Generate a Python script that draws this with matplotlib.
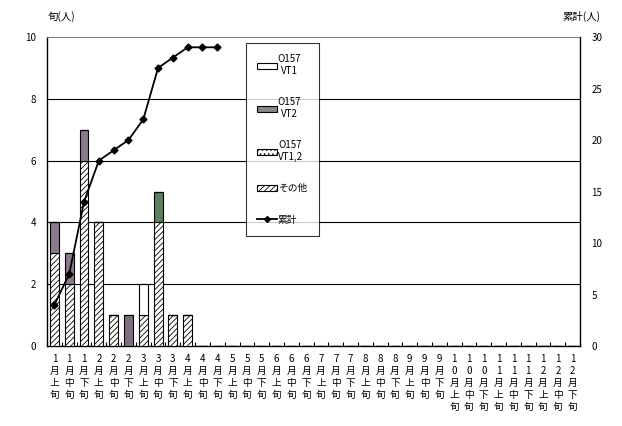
import matplotlib.pyplot as plt
import numpy as np
from matplotlib.patches import Patch
from matplotlib.lines import Line2D

plt.rcParams['font.family'] = ['Noto Sans CJK JP', 'DejaVu Sans']

months = list(range(1, 13))
parts = ['上', '中', '下']
labels = []
for m in months:
    for p in parts:
        labels.append('\n'.join(list(str(m))) + '\n月\n' + p + '\n旬')

# counts per 10-day period (first 12 periods, rest zero)
other = [3, 2, 6, 4, 1, 0, 1, 4, 1, 1]
vt2 = [1, 1, 1, 0, 0, 1, 0, 1, 0, 0]
vt1 = [0, 0, 0, 0, 0, 0, 1, 0, 0, 0]
vt12 = [0, 0, 0, 0, 0, 0, 0, 0, 0, 0]
vt2_colors = ['#8a7a8c', '#8a7a8c', '#8a7a8c', '#888888', '#888888',
              '#7e6e80', '#888888', '#5f7d5f', '#888888', '#888888']
cumulative = [4, 7, 14, 18, 19, 20, 22, 27, 28, 29, 29, 29]

n = len(labels)
x = np.arange(n)
pad = n - len(other)
other_a = np.array(other + [0] * pad)
vt2_a = np.array(vt2 + [0] * pad)
vt1_a = np.array(vt1 + [0] * pad)
vt12_a = np.array(vt12 + [0] * pad)

fig = plt.figure(figsize=(6.22, 4.26), dpi=100)
ax = fig.add_axes([0.0756, 0.1878, 0.857, 0.7253])
plt.rcParams['hatch.linewidth'] = 0.6
w = 0.6

ax.bar(x, other_a, w, color='white', edgecolor='black', hatch='//////', linewidth=0.8, zorder=3)
ax.bar(x, vt2_a, w, bottom=other_a, color=vt2_colors + ['#888888'] * pad,
       edgecolor='black', linewidth=0.8, zorder=3)
ax.bar(x, vt1_a, w, bottom=other_a + vt2_a, color='white', edgecolor='black', linewidth=0.8, zorder=3)
ax.bar(x, vt12_a, w, bottom=other_a + vt2_a + vt1_a, color='white', edgecolor='black',
       hatch='....', linewidth=0.8, zorder=3)

ax.set_xlim(-0.5, n - 0.5)
ax.set_ylim(0, 10)
ax.set_yticks(range(0, 11, 2))
ax.set_yticklabels([str(v) for v in range(0, 11, 2)], fontsize=7)
ax.set_xticks(x)
ax.set_xticklabels(labels, fontsize=7, linespacing=1.25)
ax.set_xticks(np.arange(-0.5, n, 1), minor=True)
ax.tick_params(axis='x', which='major', length=0, pad=6)
ax.tick_params(axis='x', which='minor', length=3, direction='in', width=0.8)
ax.tick_params(axis='y', length=0, pad=8)
for yv in [2, 4, 6, 8]:
    ax.axhline(yv, color='black', linewidth=0.8, zorder=1)
for s in ['left', 'bottom', 'right']:
    ax.spines[s].set_color('black')
    ax.spines[s].set_linewidth(1.0)
ax.spines['top'].set_color('#808080')
ax.spines['top'].set_linestyle((0, (2, 1)))
ax.spines['top'].set_linewidth(0.8)

ax2 = ax.twinx()
ax2.set_ylim(0, 30)
ax2.set_yticks(range(0, 31, 5))
ax2.set_yticklabels([str(v) for v in range(0, 31, 5)], fontsize=7)
ax2.tick_params(axis='y', length=0, pad=8)
ax2.plot(x[:len(cumulative)], cumulative, color='black', linewidth=1.3,
         marker='D', markersize=3.5, zorder=5)
for s in ax2.spines.values():
    s.set_visible(False)

fig.text(0.077, 0.962, '旬(人)', fontsize=7.5, va='center')
fig.text(0.965, 0.962, '累計(人)', fontsize=7.5, va='center', ha='right')

handles = [
    Patch(facecolor='white', edgecolor='black', linewidth=0.8),
    Patch(facecolor='#888888', edgecolor='black', linewidth=0.8),
    Patch(facecolor='white', edgecolor='black', hatch='....', linewidth=0.8),
    Patch(facecolor='white', edgecolor='black', hatch='//////', linewidth=0.8),
    Line2D([0], [0], color='black', marker='D', markersize=3, linewidth=1.3),
]
names = ['O157\nVT1', 'O157\nVT2', 'O157\nVT1,2', 'その他', '累計']
leg = fig.legend(handles, names, loc='upper left', bbox_to_anchor=(0.395, 0.9),
                 fontsize=7, frameon=True, fancybox=False, edgecolor='black',
                 handlelength=2.0, handleheight=0.6, handletextpad=0.1,
                 labelspacing=2.2, borderpad=1.2, borderaxespad=0)
leg.get_frame().set_linewidth(0.8)
for t in leg.get_texts():
    t.set_multialignment('center')
leg.set_zorder(10)

plt.savefig('out.png', dpi=100)
